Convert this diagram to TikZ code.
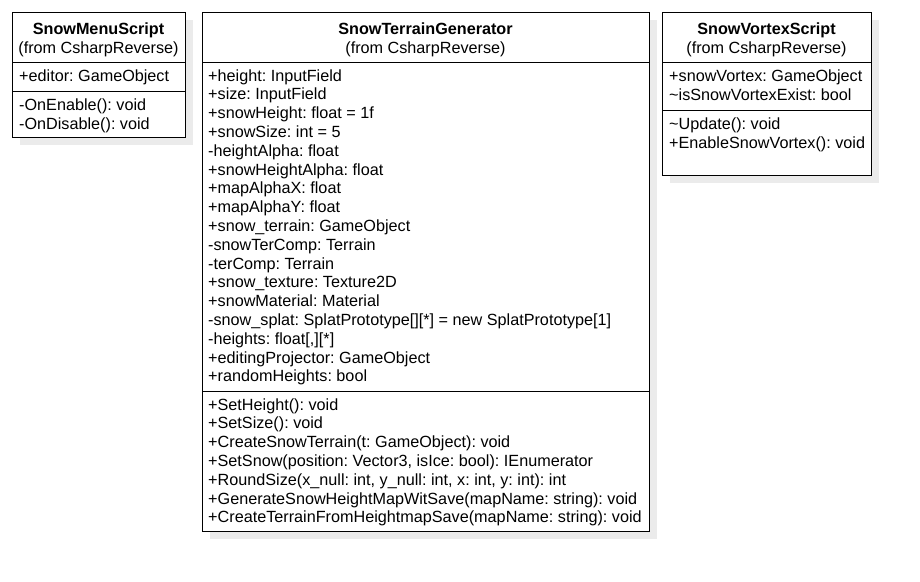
\documentclass[tikz,border=0pt]{standalone}
\usepackage{fontspec}
\setmainfont{Liberation Sans}
\frenchspacing
\definecolor{shadowgray}{HTML}{EBEBEB}
\tikzset{
  classbox/.style={draw=black, line width=1pt, fill=white, anchor=north west, inner sep=0pt},
  shadowbox/.style={fill=shadowgray, draw=none, anchor=north west, inner sep=0pt},
  member/.style={anchor=base west, inner sep=0pt, font=\fontsize{16.2}{18}\selectfont\frenchspacing},
  titletext/.style={anchor=base, inner sep=0pt, font=\fontsize{16.2}{18}\selectfont\bfseries},
  fromtext/.style={anchor=base, inner sep=0pt, font=\fontsize{16.2}{18}\selectfont},
  sepline/.style={line width=1pt}
}
\begin{document}
\begin{tikzpicture}[x=1pt,y=-1pt]
\useasboundingbox (0,0) rectangle (920,581);
\fill[white] (0,0) rectangle (920,581);
% shadows
\node[shadowbox, minimum width=173pt, minimum height=125pt] (s1) at (20,20) {};
\node[shadowbox, minimum width=447pt, minimum height=519pt] (s2) at (210,20) {};
\node[shadowbox, minimum width=209pt, minimum height=163pt] (s3) at (670,20) {};
% boxes
\node[classbox, minimum width=173pt, minimum height=125pt] (b1) at (12,12) {};
\node[classbox, minimum width=447pt, minimum height=519pt] (b2) at (202,12) {};
\node[classbox, minimum width=209pt, minimum height=163pt] (b3) at (662,12) {};
% separators
\draw[sepline] (b1.west |- 0,62) -- (b1.east |- 0,62);
\draw[sepline] (b1.west |- 0,91) -- (b1.east |- 0,91);
\draw[sepline] (b2.west |- 0,62) -- (b2.east |- 0,62);
\draw[sepline] (b2.west |- 0,391) -- (b2.east |- 0,391);
\draw[sepline] (b3.west |- 0,62) -- (b3.east |- 0,62);
\draw[sepline] (b3.west |- 0,110) -- (b3.east |- 0,110);
% box 1
\node[titletext] (t1) at (98.5,34) {SnowMenuScript};
\node[fromtext] (f1) at (98.5,53) {(from CsharpReverse)};
\node[member] (a1) at (19,81) {+editor: GameObject};
\node[member] (m1a) at (19,110) {-OnEnable(): void};
\node[member] (m1b) at (19,129) {-OnDisable(): void};
% box 2
\node[titletext] (t2) at (425.5,34) {SnowTerrainGenerator};
\node[fromtext] (f2) at (425.5,53) {(from CsharpReverse)};
\foreach \i/\t in {0/{+height: InputField},1/{+size: InputField},2/{+snowHeight: float = 1f},3/{+snowSize: int = 5},4/{-heightAlpha: float},5/{+snowHeightAlpha: float},6/{+mapAlphaX: float},7/{+mapAlphaY: float},8/{+snow\_terrain: GameObject},9/{-snowTerComp: Terrain},10/{-terComp: Terrain},11/{+snow\_texture: Texture2D},12/{+snowMaterial: Material},13/{-snow\_splat: SplatPrototype[][*] = new SplatPrototype[1]},14/{-heights: float[,][*]},15/{+editingProjector: GameObject},16/{+randomHeights: bool}}
  \node[member] (a2-\i) at (208,81+18.8*\i) {\t};
\foreach \i/\t in {0/{+SetHeight(): void},1/{+SetSize(): void},2/{+CreateSnowTerrain(t: GameObject): void},3/{+SetSnow(position: Vector3, isIce: bool): IEnumerator},4/{+RoundSize(x\_null: int, y\_null: int, x: int, y: int): int},5/{+GenerateSnowHeightMapWitSave(mapName: string): void},6/{+CreateTerrainFromHeightmapSave(mapName: string): void}}
  \node[member] (m2-\i) at (208,410+18.8*\i) {\t};
% box 3
\node[titletext] (t3) at (766.5,34) {SnowVortexScript};
\node[fromtext] (f3) at (766.5,53) {(from CsharpReverse)};
\node[member] (a3a) at (669,81) {+snowVortex: GameObject};
\node[member] (a3b) at (669,100) {\textasciitilde isSnowVortexExist: bool};
\node[member] (m3a) at (669,129) {\textasciitilde Update(): void};
\node[member] (m3b) at (669,148) {+EnableSnowVortex(): void};
\end{tikzpicture}
\end{document}
